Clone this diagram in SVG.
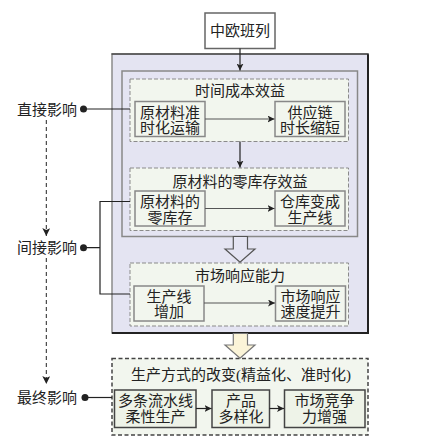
<svg xmlns="http://www.w3.org/2000/svg" width="442" height="448" viewBox="0 0 442 448">
<defs>
<style>
text{font-family:"Liberation Serif","Noto Sans CJK SC",serif;font-size:15px;fill:#222;text-anchor:middle}
.lbl{text-anchor:end}
.dash{fill:#f2f6ee;stroke:#8a8a8a;stroke-width:1;stroke-dasharray:4 2}
.box{fill:#f2f6ee;stroke:#888;stroke-width:1.5}
.boxd{fill:#eef3e8;stroke:#444;stroke-width:1.5}
.ln{fill:none;stroke:#555;stroke-width:1.2}
.lnk{fill:none;stroke:#222;stroke-width:1.2}
</style>
<marker id="ah" viewBox="0 0 10 10" refX="10" refY="5" markerWidth="7" markerHeight="7" markerUnits="userSpaceOnUse" orient="auto">
<path d="M0,0 L10,5 L0,10 L2.5,5 Z" fill="#222"/>
</marker>
<marker id="ahb" viewBox="0 0 10 10" refX="10" refY="5" markerWidth="8" markerHeight="8" markerUnits="userSpaceOnUse" orient="auto">
<path d="M0,0 L10,5 L0,10 L2.5,5 Z" fill="#222"/>
</marker>
</defs>
<rect width="442" height="448" fill="#fff"/>

<g id="outer">
<rect x="112" y="54" width="256" height="279" fill="#e4e4f2" stroke="#8a8a8a" stroke-width="1.5"/>
<path d="M111.5,54 H368 V333 H112" fill="none" stroke="#222" stroke-width="1.2"/>
<path d="M368,54.5 V333 H112" fill="none" stroke="#222" stroke-width="2"/>
</g>
<g id="inner">
<rect x="122" y="71" width="235.5" height="165.5" fill="#e4e4f2" stroke="#888" stroke-width="1.5"/>
</g>

<g id="n-zhongou">
<rect x="205" y="13" width="70" height="35.5" fill="#fff" stroke="#666" stroke-width="1.5"/>
<text x="240" y="36">中欧班列</text>
</g>

<g id="g-time">
<rect class="dash" x="130" y="79" width="218.5" height="62.5"/>
<text x="240" y="95.5">时间成本效益</text>
</g>
<g id="n-yuancailiao-zhunshi">
<rect class="box" x="135" y="101.5" width="70" height="35"/>
<text x="170" y="117.5">原材料准</text>
<text x="170" y="133">时化运输</text>
</g>
<g id="n-gongyinglian">
<rect class="box" x="275" y="101.5" width="70" height="35"/>
<text x="310" y="117.5">供应链</text>
<text x="310" y="133">时长缩短</text>
</g>

<g id="g-zero">
<rect class="dash" x="130" y="168" width="218.5" height="62.5"/>
<text x="240" y="186.5">原材料的零库存效益</text>
</g>
<g id="n-lingkucun">
<rect class="box" x="135" y="191" width="70" height="35"/>
<text x="170" y="206.5">原材料的</text>
<text x="170" y="222.5">零库存</text>
</g>
<g id="n-cangku">
<rect class="box" x="275" y="191" width="70" height="35"/>
<text x="310" y="206.5">仓库变成</text>
<text x="310" y="222.5">生产线</text>
</g>

<g id="g-market">
<rect class="dash" x="130" y="263" width="218.5" height="63"/>
<text x="240" y="281">市场响应能力</text>
</g>
<g id="n-shengchanxian">
<rect class="box" x="134" y="286" width="70" height="35"/>
<text x="169" y="301.5">生产线</text>
<text x="169" y="317">增加</text>
</g>
<g id="n-sudu">
<rect class="box" x="275.5" y="286" width="70" height="35"/>
<text x="310.5" y="301.5">市场响应</text>
<text x="310.5" y="317">速度提升</text>
</g>

<g id="g-final">
<rect x="112" y="358.5" width="256" height="76.5" fill="#f2f6ee" stroke="#444" stroke-width="1.5" stroke-dasharray="4 2.5"/>
<text x="241" y="379.5">生产方式的改变(精益化、准时化)</text>
</g>
<g id="n-liushuixian">
<rect class="boxd" x="114.5" y="390" width="81.5" height="37.5"/>
<text x="155.5" y="405.5">多条流水线</text>
<text x="155.5" y="421.5">柔性生产</text>
</g>
<g id="n-chanpin">
<rect class="boxd" x="212" y="390" width="57.5" height="37.5"/>
<text x="241" y="405.5">产品</text>
<text x="241" y="421.5">多样化</text>
</g>
<g id="n-jingzheng">
<rect class="boxd" x="284.5" y="390" width="80.5" height="37.5"/>
<text x="324.5" y="405.5">市场竞争</text>
<text x="324.5" y="421.5">力增强</text>
</g>

<g id="labels">
<text class="lbl" x="77" y="114.5">直接影响</text>
<text class="lbl" x="77" y="253">间接影响</text>
<text class="lbl" x="77" y="403">最终影响</text>
<circle cx="83.5" cy="109" r="3.5" fill="#222"/>
<circle cx="83.5" cy="247.7" r="3.5" fill="#222"/>
<circle cx="85" cy="397.5" r="3.5" fill="#222"/>
</g>

<g id="connectors">
<path class="lnk" d="M240,48.5 V70.5" marker-end="url(#ah)"/>
<path class="lnk" d="M240,141.5 V167.5" marker-end="url(#ah)"/>
<path class="ln" d="M205,119 H274.5" marker-end="url(#ah)"/>
<path class="ln" d="M205,208.5 H274.5" marker-end="url(#ah)"/>
<path class="ln" d="M204,303 H275" marker-end="url(#ah)"/>
<path class="lnk" d="M196,408.5 H211.5" marker-end="url(#ah)"/>
<path class="lnk" d="M269.5,408.5 H284" marker-end="url(#ah)"/>
<path class="lnk" d="M83.5,109 H130"/>
<path class="lnk" d="M83.5,247.7 H100 M130,201.5 H100 V294 H130"/>
<path class="lnk" d="M85,397.5 H112"/>
<path fill="none" stroke="#222" stroke-width="1" stroke-dasharray="4 3" d="M46.3,120 V236" marker-end="url(#ahb)"/>
<path fill="none" stroke="#222" stroke-width="1" stroke-dasharray="4 3" d="M46.3,258 V384" marker-end="url(#ahb)"/>
<polygon points="233.3,236.5 247.5,236.5 247.5,249 255,249 240,262.3 225,249 233.3,249" fill="#e4e4f2" stroke="#555" stroke-width="1.2"/>
<polygon points="233.3,333.5 247.5,333.5 247.5,345 255,345 240,358.3 225,345 233.3,345" fill="#fbf4d8" stroke="#777" stroke-width="1.2"/>
</g>
</svg>
